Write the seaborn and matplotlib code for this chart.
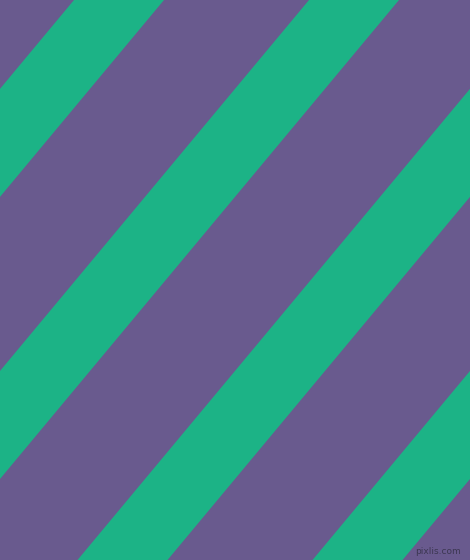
import matplotlib

matplotlib.use("Agg")
import matplotlib.pyplot as plt
import numpy as np
import seaborn as sns

# canvas size in pixels
width, height = 470, 560

# stripe left edges where they meet the top border, and their width along x
stripe_starts = [74, 309, 544, 779]
stripe_width = 90
# horizontal shift per pixel going down
shift = 0.833

background = "#695a8e"
stripe_color = "#1cb386"
watermark = "pixlis.com"

sns.set_theme(style="white")
plt.rcParams["font.family"] = ["DejaVu Sans"]

fig = plt.figure(figsize=(width / 100, height / 100), dpi=100)
ax = fig.add_axes([0, 0, 1, 1])
ax.set_facecolor(background)

y = np.array([0, height])
for x0 in stripe_starts:
    left = x0 - shift * y
    ax.fill_betweenx(y, left, left + stripe_width, color=stripe_color, linewidth=0)

ax.text(
    461, 552, watermark,
    ha="right", va="center", fontsize=6.5, color="#3c3752",
)

ax.set_xlim(0, width)
ax.set_ylim(height, 0)
ax.axis("off")
fig.patch.set_facecolor(background)
fig.savefig("out.png", dpi=100, facecolor=background)
plt.close(fig)
